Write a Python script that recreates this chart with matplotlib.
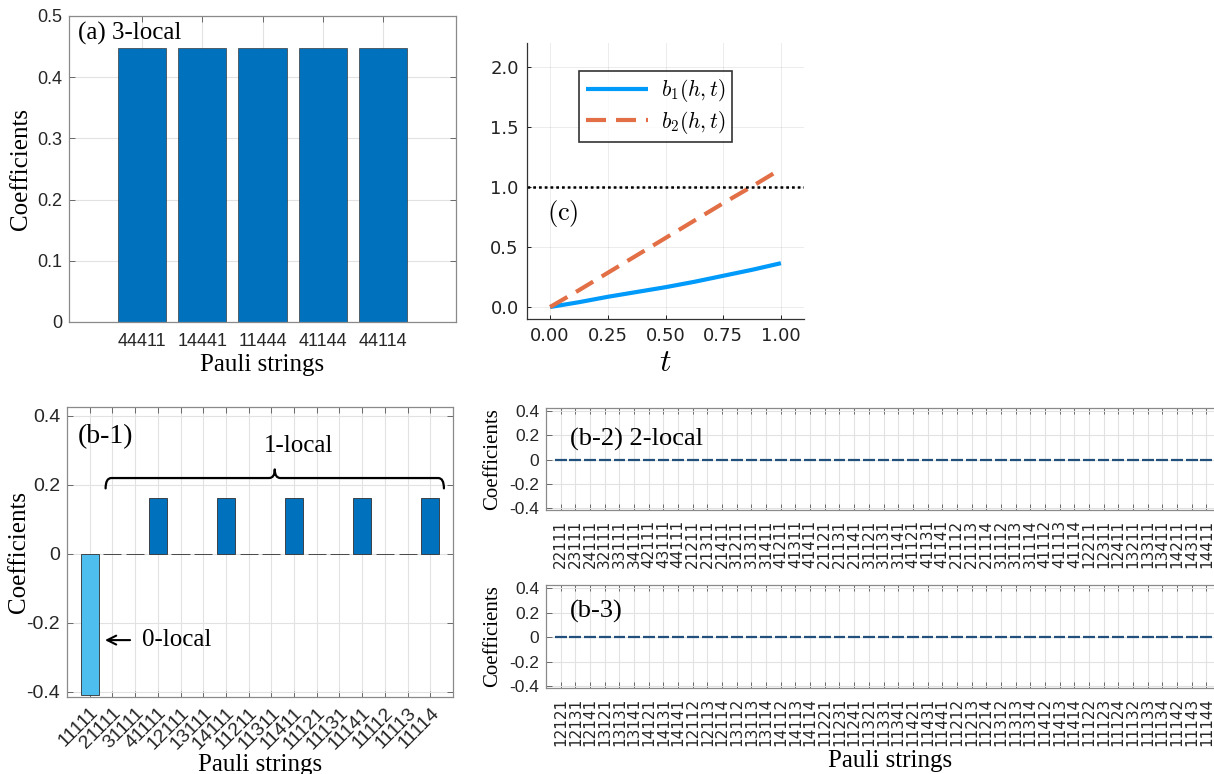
import matplotlib
matplotlib.use('Agg')
import matplotlib.pyplot as plt
from matplotlib.path import Path
from matplotlib.patches import PathPatch
from matplotlib.transforms import ScaledTranslation

plt.rcParams['axes.unicode_minus'] = False
plt.rcParams['mathtext.fontset'] = 'cm'
plt.rcParams['font.family'] = ['Liberation Sans', 'DejaVu Sans']

# ---------------- data ----------------
a_labels = ['44411', '14441', '11444', '41144', '44114']
a_values = [0.447, 0.447, 0.447, 0.447, 0.447]

b1_labels = ['11111', '21111', '31111', '41111', '12111', '13111', '14111', '11211',
             '11311', '11411', '11121', '11131', '11141', '11112', '11113', '11114']
b1_values = [-0.41, 0, 0, 0.162, 0, 0, 0.162, 0, 0, 0.162, 0, 0, 0.162, 0, 0, 0.162]
b1_locality = [0, 1, 1, 1, 1, 1, 1, 1, 1, 1, 1, 1, 1, 1, 1, 1]

b2_labels = ['22111', '23111', '24111', '32111', '33111', '34111', '42111', '43111', '44111',
             '21211', '21311', '21411', '31211', '31311', '31411', '41211', '41311', '41411',
             '21121', '21131', '21141', '31121', '31131', '31141', '41121', '41131', '41141',
             '21112', '21113', '21114', '31112', '31113', '31114', '41112', '41113', '41114',
             '12211', '12311', '12411', '13211', '13311', '13411', '14211', '14311', '14411']
b2_values = [0.0] * len(b2_labels)

b3_labels = ['12121', '12131', '12141', '13121', '13131', '13141', '14121', '14131', '14141',
             '12112', '12113', '12114', '13112', '13113', '13114', '14112', '14113', '14114',
             '11221', '11231', '11241', '11321', '11331', '11341', '11421', '11431', '11441',
             '11212', '11213', '11214', '11312', '11313', '11314', '11412', '11413', '11414',
             '11122', '11123', '11124', '11132', '11133', '11134', '11142', '11143', '11144']
b3_values = [0.0] * len(b3_labels)

c_t = [0.0, 0.125, 0.25, 0.375, 0.5, 0.625, 0.75, 0.875, 1.0]
c_b1 = [0.0, 0.04, 0.085, 0.125, 0.165, 0.21, 0.26, 0.31, 0.365]
c_b2 = [0.0, 0.14, 0.285, 0.43, 0.575, 0.72, 0.865, 1.005, 1.15]
c_threshold = 1.0

coef_ticks = [-0.4, -0.2, 0, 0.2, 0.4]
coef_ticklabels = ['-0.4', '-0.2', '0', '0.2', '0.4']
a_ticks = [0, 0.1, 0.2, 0.3, 0.4, 0.5]
a_ticklabels = ['0', '0.1', '0.2', '0.3', '0.4', '0.5']
c_xticks = [0.0, 0.25, 0.5, 0.75, 1.0]
c_xticklabels = ['0.00', '0.25', '0.50', '0.75', '1.00']
c_yticks = [0.0, 0.5, 1.0, 1.5, 2.0]
c_yticklabels = ['0.0', '0.5', '1.0', '1.5', '2.0']

# ---------------- layout ----------------
W, H = 1214, 774
fig = plt.figure(figsize=(W / 100, H / 100), dpi=100)


def px_axes(l, t, r, b):
    return fig.add_axes([l / W, 1 - b / H, (r - l) / W, (b - t) / H])


BLUE = '#0072BD'
LIGHTBLUE = '#4DBEEE'
SERIF = 'Liberation Serif'
TXT = '#262626'


def matlab_style(ax, fs):
    ax.tick_params(direction='in', top=True, right=True, length=4, width=0.6,
                   color='#555555', labelsize=fs, labelcolor=TXT, pad=5)
    for s in ax.spines.values():
        s.set_color('#8a8a8a')
        s.set_linewidth(0.9)
    ax.grid(True, color='#e2e2e2', linewidth=0.8)
    ax.set_axisbelow(True)


# ---------------- panel (a) ----------------
axa = px_axes(69, 16, 456, 322)
xa = list(range(1, len(a_labels) + 1))
axa.bar(xa, a_values, width=0.8, color=BLUE, edgecolor='#3a3a3a', linewidth=0.5)
axa.set_xlim(-0.21, len(a_labels) + 1.21)
axa.set_ylim(0, 0.5)
axa.set_xticks(xa)
axa.set_xticklabels(a_labels)
axa.set_yticks(a_ticks)
axa.set_yticklabels(a_ticklabels)
matlab_style(axa, 13)
axa.tick_params(axis='x', pad=8)
axa.set_ylabel('Coefficients', family=SERIF, fontsize=18, color='black')
axa.yaxis.set_label_coords(-37 / 387, 0.5)
axa.set_xlabel('Pauli strings', family=SERIF, fontsize=18, color='black')
axa.xaxis.set_label_coords(0.5, -32 / 306)
axa.text(0.022, 0.944, '(a) 3-local', transform=axa.transAxes, family=SERIF,
         fontsize=18, va='center', ha='left')

# ---------------- panel (c) ----------------
axc = px_axes(527, 43, 804, 319)
axc.plot(c_t, c_b1, color='#009AFA', lw=3, label=r'$b_1(h,t)$', solid_capstyle='butt')
axc.plot(c_t, c_b2, color='#E26F46', lw=3, dashes=(4.8, 2.4), label=r'$b_2(h,t)$')
axc.axhline(c_threshold, color='black', lw=1.8, ls=(0, (1.1, 1.2)))
axc.set_xlim(-0.1, 1.1)
axc.set_ylim(-0.1, 2.2)
axc.set_xticks(c_xticks)
axc.set_xticklabels(c_xticklabels)
axc.set_yticks(c_yticks)
axc.set_yticklabels(c_yticklabels)
for s in ['top', 'right']:
    axc.spines[s].set_visible(False)
for s in ['left', 'bottom']:
    axc.spines[s].set_color('#333333')
    axc.spines[s].set_linewidth(0.9)
axc.tick_params(direction='in', length=3, width=0.6, labelsize=13, labelcolor='#222222', pad=6)
for lbl in axc.get_xticklabels() + axc.get_yticklabels():
    lbl.set_family('DejaVu Sans')
axc.grid(True, color='#000000', alpha=0.08, linewidth=0.7)
axc.set_axisbelow(True)
axc.set_xlabel(r'$t$', fontsize=23)
axc.xaxis.set_label_coords(0.5, -29 / 276)
leg = axc.legend(loc='upper left', bbox_to_anchor=(0.188, 0.899), borderaxespad=0,
                 fontsize=15.5, frameon=True, fancybox=False, handlelength=2.9,
                 borderpad=0.3, labelspacing=0.2, handletextpad=0.6)
leg.get_frame().set_edgecolor('black')
leg.get_frame().set_linewidth(1.2)
axc.text(0.13, 0.384, r'$\mathrm{(c)}$', transform=axc.transAxes, fontsize=19,
         ha='center', va='center')

# ---------------- panel (b-1) ----------------
axb1 = px_axes(67, 407, 453, 697)
xb1 = list(range(1, len(b1_labels) + 1))
b1_colors = [LIGHTBLUE if k == 0 else BLUE for k in b1_locality]
axb1.bar(xb1, b1_values, width=0.8, color=b1_colors, edgecolor='#2f2f2f', linewidth=0.6)
axb1.set_xlim(0, len(b1_labels) + 1)
axb1.set_ylim(-0.415, 0.426)
axb1.set_xticks(xb1)
axb1.set_xticklabels(b1_labels, rotation=45, ha='right', va='center', rotation_mode='anchor')
axb1.set_yticks(coef_ticks)
axb1.set_yticklabels(coef_ticklabels)
matlab_style(axb1, 14)
axb1.tick_params(axis='x', labelsize=14, pad=8)
shift = ScaledTranslation(6 / 100, -2 / 100, fig.dpi_scale_trans)
for lbl in axb1.get_xticklabels():
    lbl.set_transform(lbl.get_transform() + shift)
axb1.set_ylabel('Coefficients', family=SERIF, fontsize=18, color='black')
axb1.yaxis.set_label_coords(-37 / 386, 0.5)
axb1.set_xlabel('Pauli strings', family=SERIF, fontsize=18, color='black')
axb1.xaxis.set_label_coords(0.5, -57 / 290)
axb1.text(0.48, 0.341, '(b-1)', family=SERIF, fontsize=20, ha='left', va='center')

# bracket over the 1-local group
one_local = [x for x, k in zip(xb1, b1_locality) if k == 1]
bx0, bx1 = one_local[0] - 0.3, one_local[-1] + 0.6
bxm = (bx0 + bx1) / 2
yb, yend, ytop, r = 0.22, 0.19, 0.245, 0.25
verts = [(bx0, yend), (bx0, yb), (bx0 + r, yb), (bxm - r, yb), (bxm, yb), (bxm, ytop),
         (bxm, yb), (bxm + r, yb), (bx1 - r, yb), (bx1, yb), (bx1, yend)]
codes = [Path.MOVETO, Path.CURVE3, Path.CURVE3, Path.LINETO, Path.CURVE3, Path.CURVE3,
         Path.CURVE3, Path.CURVE3, Path.LINETO, Path.CURVE3, Path.CURVE3]
axb1.add_patch(PathPatch(Path(verts, codes), fill=False, lw=1.6, color='black',
                         capstyle='round', joinstyle='round'))
axb1.text(bxm + 1.05, 0.312, '1-local', family=SERIF, fontsize=18, ha='center', va='center')

# arrow to 0-local bar
zero_x = [x for x, k in zip(xb1, b1_locality) if k == 0][0]
axb1.annotate('', xy=(zero_x + 0.55, -0.25), xytext=(zero_x + 1.9, -0.25),
              arrowprops=dict(arrowstyle='->', lw=1.5, color='black', mutation_scale=16))
axb1.text(zero_x + 2.3, -0.25, '0-local', family=SERIF, fontsize=18, ha='left', va='center')


# ---------------- panels (b-2), (b-3) ----------------
def small_panel(top, bottom, labels, values, title, title_y):
    ax = px_axes(546, top, 1221, bottom)
    xs = list(range(1, len(labels) + 1))
    ax.bar(xs, values, width=0.8, color=BLUE, edgecolor='#22507d', linewidth=1.6)
    ax.set_xlim(0, 46)
    ax.set_ylim(-0.415, 0.425)
    ax.set_xticks(xs)
    ax.set_xticklabels(labels, rotation=90, ha='center', va='top')
    ax.set_yticks(coef_ticks)
    ax.set_yticklabels(coef_ticklabels)
    matlab_style(ax, 12.5)
    ax.tick_params(axis='x', labelsize=11, pad=7)
    for lbl in ax.get_xticklabels():
        lbl.set_family('DejaVu Sans')
    ax.set_ylabel('Coefficients', family=SERIF, fontsize=15, color='black')
    ax.yaxis.set_label_coords(-44 / 675, 0.5)
    ax.text(1.65, title_y, title, family=SERIF, fontsize=19, ha='left', va='center')
    return ax


axb2 = small_panel(408, 510, b2_labels, b2_values, '(b-2) 2-local', 0.168)
axb3 = small_panel(585, 688, b3_labels, b3_values, '(b-3)', 0.21)
axb3.set_xlabel('Pauli strings', family=SERIF, fontsize=18, color='black')
axb3.xaxis.set_label_coords((890 - 546) / 675, -62 / 103)

fig.savefig('out.png', dpi=100)
